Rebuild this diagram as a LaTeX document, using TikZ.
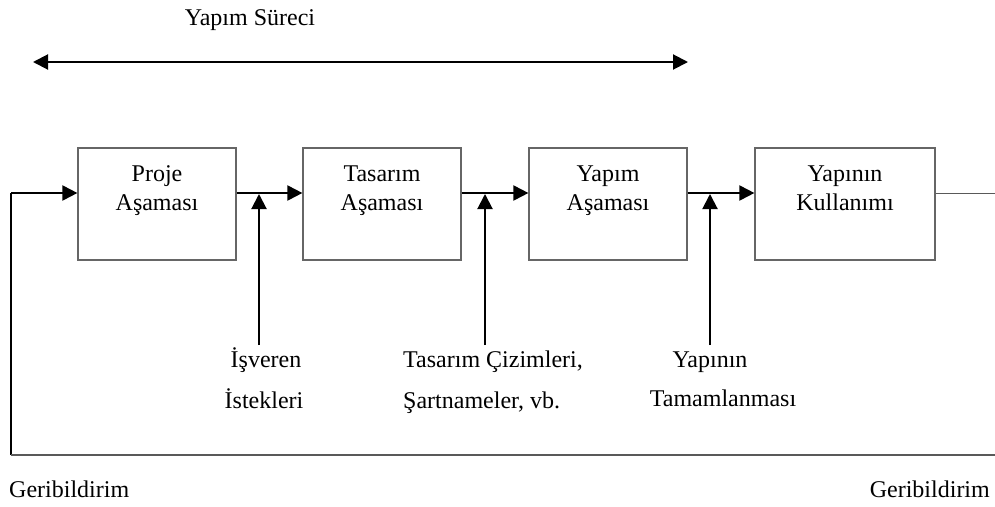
\documentclass[tikz,border=0pt]{standalone}
\usepackage{fontspec}
\setmainfont{Liberation Serif}
\usetikzlibrary{arrows.meta}
\begin{document}
\begin{tikzpicture}[x=1pt,y=-1pt,
  every node/.style={font=\fontsize{24}{29}\selectfont, inner sep=0pt},
  phase/.style={draw=black!60, line width=1.2pt, minimum height=112pt, inner sep=0pt},
  txt/.style={anchor=base},
  flow/.style={line width=2pt, -{Triangle[length=15pt,width=15pt]}},
  plain/.style={line width=2pt},
  thinline/.style={draw=black!65, line width=1.2pt}]
\useasboundingbox (0,0) rectangle (995,506);

% phase boxes
\node[phase, minimum width=158pt] (b1) at (157,204) {};
\node[phase, minimum width=158pt] (b2) at (382,204) {};
\node[phase, minimum width=158pt] (b3) at (608,204) {};
\node[phase, minimum width=180pt] (b4) at (845,204) {};

\node[txt] (t1a) at (157,181) {Proje};
\node[txt] (t1b) at (157,210) {Aşaması};
\node[txt] (t2a) at (382,181) {Tasarım};
\node[txt] (t2b) at (382,210) {Aşaması};
\node[txt] (t3a) at (608,181) {Yapım};
\node[txt] (t3b) at (608,210) {Aşaması};
\node[txt] (t4a) at (845,181) {Yapının};
\node[txt] (t4b) at (845,210) {Kullanımı};

% process span
\node[txt] (span) at (250,25) {Yapım Süreci};
\coordinate (sL) at (33,62);
\coordinate (sR) at (688,62);
\draw[line width=2pt, {Triangle[length=15pt,width=15pt]}-{Triangle[length=15pt,width=15pt]}] (sL) -- (sR);

% main flow
\coordinate (fbTop) at (11,193);
\coordinate (fbBot) at (11,455);
\coordinate (fbEnd) at (995,455);
\coordinate (exitR) at (995,193);
\draw[plain] (fbBot) -- (fbTop);
\draw[flow] (fbTop) -- ([yshift=11pt]b1.west);
\draw[flow] ([yshift=11pt]b1.east) -- ([yshift=11pt]b2.west);
\draw[flow] ([yshift=11pt]b2.east) -- ([yshift=11pt]b3.west);
\draw[flow] ([yshift=11pt]b3.east) -- ([yshift=11pt]b4.west);
\draw[thinline, line width=1pt] ([yshift=11pt]b4.east) -- (exitR);
\draw[thinline] (fbBot) -- (fbEnd);

% inputs
\coordinate (i1) at (259,345);
\coordinate (j1) at (259,194);
\coordinate (i2) at (485,345);
\coordinate (j2) at (485,194);
\coordinate (i3) at (710,345);
\coordinate (j3) at (710,194);
\draw[flow] (i1) -- (j1);
\draw[flow] (i2) -- (j2);
\draw[flow] (i3) -- (j3);

\node[txt] (l1a) at (266,367) {İşveren};
\node[txt] (l1b) at (264,408) {İstekleri};
\node[txt, anchor=base west] (l2a) at (403,367) {Tasarım Çizimleri,};
\node[txt, anchor=base west] (l2b) at (403,408) {Şartnameler, vb.};
\node[txt] (l3a) at (710,367) {Yapının};
\node[txt] (l3b) at (723,406) {Tamamlanması};

% feedback labels
\node[txt, anchor=base west] (gL) at (9,497) {Geribildirim};
\node[txt, anchor=base east] (gR) at (990,497) {Geribildirim};
\end{tikzpicture}
\end{document}
